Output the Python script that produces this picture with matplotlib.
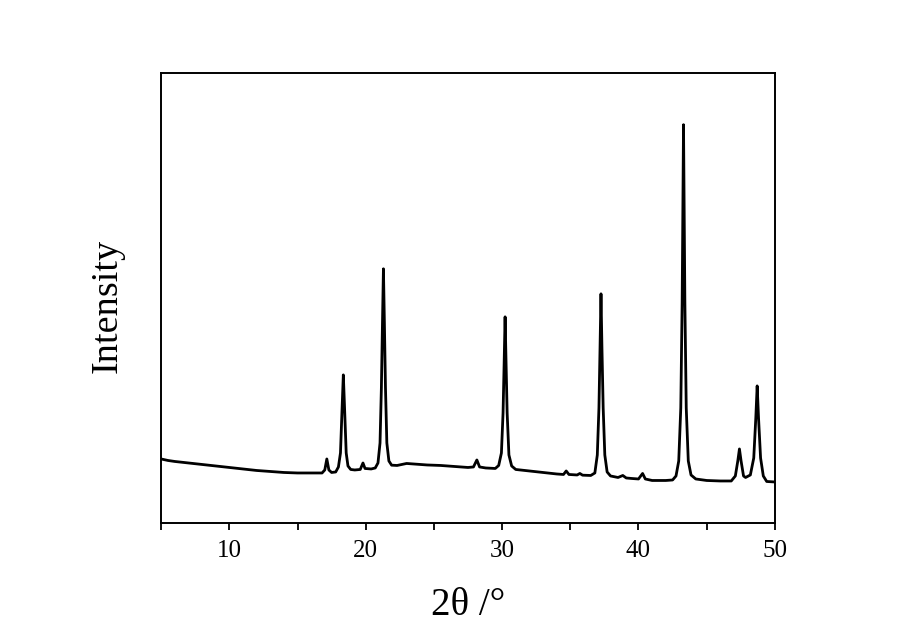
import matplotlib
matplotlib.use('Agg')
from matplotlib import pyplot as plt
from matplotlib.ticker import MultipleLocator

# XRD trace (2theta in degrees, intensity in arbitrary units)
two_theta = [
    5.0, 5.5, 6.0, 7.0, 8.0, 9.0, 10.0, 11.0, 12.0, 13.0, 14.0, 15.0, 16.0, 16.8,
    17.0, 17.15, 17.3, 17.5, 17.8,
    18.0, 18.15, 18.27, 18.36, 18.45, 18.57, 18.7, 18.9, 19.2, 19.6,
    19.8, 19.95, 20.4, 20.7,
    20.9, 21.05, 21.15, 21.23, 21.3, 21.37, 21.45, 21.55, 21.7, 21.9,
    22.3, 23.0, 23.5, 24.5, 25.5, 26.5, 27.5, 27.9,
    28.15, 28.35, 28.8, 29.5,
    29.75, 29.95, 30.07, 30.15, 30.22, 30.29, 30.37, 30.5, 30.7, 31.0,
    32.0, 33.0, 34.0, 34.5, 34.7, 34.9, 35.5, 35.7, 35.9, 36.5,
    36.8, 36.98, 37.1, 37.18, 37.25, 37.32, 37.41, 37.53, 37.7, 37.95,
    38.5, 38.85, 39.1, 39.5, 40.0, 40.3, 40.5, 41.0, 42.0, 42.5,
    42.75, 42.95, 43.1, 43.2, 43.3, 43.4, 43.5, 43.65, 43.85, 44.2,
    45.0, 46.0, 46.8, 47.1, 47.28, 47.4, 47.52, 47.7, 47.85,
    48.2, 48.45, 48.6, 48.7, 48.8, 48.95, 49.15, 49.4, 50.0,
]
intensity = [
    640, 625, 615, 600, 585, 570, 555, 540, 525, 515, 505, 500, 500, 500,
    530, 640, 530, 505, 510,
    560, 700, 1150, 1480, 1150, 700, 570, 535, 530, 535,
    600, 545, 540, 550,
    600, 800, 1350, 2000, 2540, 2000, 1350, 800, 620, 578,
    575, 595, 590, 580, 575, 565, 555, 560,
    630, 560, 550, 545,
    575, 700, 1100, 1600, 2060, 1600, 1100, 680, 570, 535,
    520, 505, 490, 485, 520, 485, 480, 495, 478, 475,
    500, 680, 1150, 1750, 2290, 1750, 1150, 680, 510, 470,
    455, 475, 450, 445, 440, 495, 440, 425, 425, 430,
    470, 620, 1150, 2200, 3980, 2200, 1150, 620, 480, 440,
    425, 420, 420, 470, 620, 740, 620, 470, 455,
    480, 650, 1050, 1370, 1050, 650, 470, 415, 410,
]

x_ticks = [10, 20, 30, 40, 50]

plt.rcParams['font.family'] = ['Liberation Serif', 'DejaVu Serif']

fig = plt.figure(figsize=(9, 6.29), dpi=100)
ax = fig.add_axes([0.179, 0.1685, 0.682, 0.716])

ax.plot(two_theta, intensity, color='black', linewidth=2.0, solid_joinstyle='round')

ax.set_xlim(5, 50)
ax.set_ylim(0, 4500)
ax.set_xticks(x_ticks)
ax.xaxis.set_minor_locator(MultipleLocator(5))
ax.set_yticks([])
ax.tick_params(axis='x', which='both', direction='out', length=5, width=1.3,
               labelsize=18, pad=7)
for s in ax.spines.values():
    s.set_linewidth(1.4)

ax.set_xlabel('2θ /°', fontsize=28, labelpad=18)
ax.set_ylabel('Intensity', fontsize=27.5)
ax.yaxis.set_label_coords(-0.06, 0.482)

fig.savefig('out.png', dpi=100)
